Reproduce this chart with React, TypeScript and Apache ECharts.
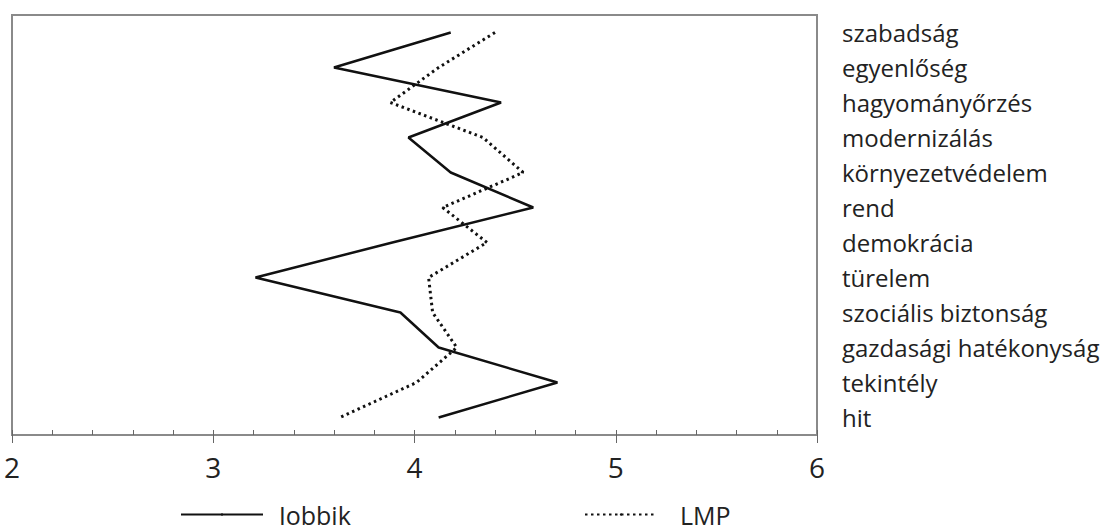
import React, { useEffect, useRef } from "react";
import * as echarts from "echarts";

const categories = [
  "szabadság",
  "egyenlőség",
  "hagyományőrzés",
  "modernizálás",
  "környezetvédelem",
  "rend",
  "demokrácia",
  "türelem",
  "szociális biztonság",
  "gazdasági hatékonyság",
  "tekintély",
  "hit",
];

const jobbik = [4.18, 3.6, 4.43, 3.97, 4.18, 4.59, 3.89, 3.21, 3.93, 4.12, 4.71, 4.12];
const lmp = [4.4, 4.12, 3.88, 4.34, 4.54, 4.14, 4.36, 4.07, 4.09, 4.21, 4.01, 3.63];

const xMin = 2;
const xMax = 6;
const xMajor = 1;
const xMinor = 0.2;

const FONT = "'Open Sans', 'Noto Sans', sans-serif";

export default function App() {
  const ref = useRef<HTMLDivElement>(null);
  useEffect(() => {
    if (!ref.current) return;
    const chart = echarts.init(ref.current, null, { renderer: "svg" });
    const legendCommon = {
      top: 502,
      padding: 0,
      itemHeight: 3,
      itemStyle: { borderWidth: 0 },
    };
    const legendText = { fontFamily: FONT, fontSize: 25, color: "#222" };
    chart.setOption({
      animation: false,
      backgroundColor: "#ffffff",
      grid: {
        left: 12,
        top: 15,
        right: 290,
        bottom: 90,
        show: true,
        borderColor: "#8a8a8a",
        borderWidth: 2,
        containLabel: false,
        outerBoundsMode: "none",
      },
      legend: [
        {
          ...legendCommon,
          left: 180,
          itemWidth: 82,
          textStyle: { ...legendText, padding: [0, 0, 0, 11] },
          data: ["Jobbik"],
        },
        {
          ...legendCommon,
          left: 584,
          itemWidth: 72,
          textStyle: { ...legendText, padding: [0, 0, 0, 18] },
          data: ["LMP"],
        },
      ],
      xAxis: [
        {
          type: "value",
          min: xMin,
          max: xMax,
          interval: xMajor,
          axisLine: { show: true, lineStyle: { color: "#8a8a8a", width: 2 } },
          axisTick: { show: true, inside: false, length: 8, lineStyle: { color: "#666", width: 1 } },
          axisLabel: { fontFamily: FONT, fontSize: 28, color: "#222", margin: 18 },
          splitLine: { show: false },
        },
        {
          type: "value",
          min: xMin,
          max: xMax,
          interval: xMinor,
          position: "bottom",
          axisLine: { show: false },
          axisTick: { show: true, inside: true, length: 5, lineStyle: { color: "#666", width: 1 } },
          axisLabel: { show: false },
          splitLine: { show: false },
        },
      ],
      yAxis: {
        type: "category",
        data: categories,
        inverse: true,
        position: "right",
        boundaryGap: true,
        axisLine: { show: false },
        axisTick: { show: false },
        axisLabel: {
          fontFamily: FONT,
          fontSize: 24,
          color: "#222",
          margin: 25,
          align: "left",
        },
        splitLine: { show: false },
      },
      series: [
        {
          name: "Jobbik",
          type: "line",
          data: jobbik,
          symbol: "none",
          lineStyle: { color: "#111", width: 2.5, type: "solid" },
          itemStyle: { color: "#111" },
        },
        {
          name: "LMP",
          type: "line",
          data: lmp,
          symbol: "none",
          lineStyle: { color: "#111", width: 3, type: [2.5, 3.5] },
          itemStyle: { color: "#111" },
        },
      ],
    });
    return () => chart.dispose();
  }, []);
  return (
    <div
      ref={ref}
      style={{ position: "fixed", left: 0, top: 0, width: 1107, height: 525 }}
    />
  );
}
